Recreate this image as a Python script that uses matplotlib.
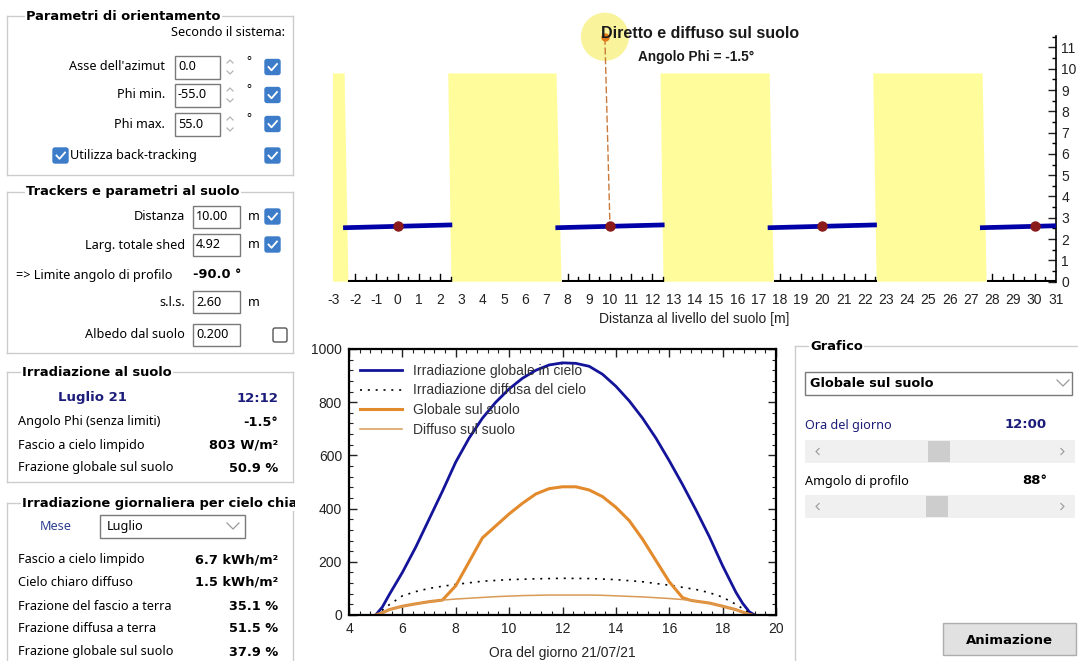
import math

import matplotlib.pyplot as plt
from matplotlib.patches import Circle, FancyBboxPatch, Polygon, Rectangle
from matplotlib.ticker import FixedLocator, MultipleLocator

plt.rcParams["font.family"] = ["Liberation Sans", "DejaVu Sans"]
plt.rcParams["axes.unicode_minus"] = False

W, H = 1078, 661

# ---- daily irradiance (W/m2) ----
HOURS_SKY = [5.0, 5.25, 5.5, 6.0, 6.5, 7.0, 7.5, 8.0, 8.5, 9.0, 9.5, 10.0, 10.5, 11.0,
             11.5, 12.0, 12.5, 13.0, 13.5, 14.0, 14.5, 15.0, 15.5, 16.0, 16.5, 17.0,
             17.5, 18.0, 18.5, 18.75, 19.0, 19.2]
GLOBAL_SKY = [0, 30, 75, 160, 255, 360, 465, 575, 665, 740, 800, 850, 890, 920,
              940, 948, 946, 935, 905, 860, 805, 740, 665, 580, 490, 395,
              295, 185, 85, 44, 12, 0]

HOURS_DIFF_SKY = [5.0, 5.25, 5.5, 6.0, 6.5, 7.0, 7.5, 8.0, 9.0, 10.0, 11.0, 12.0,
                  13.0, 14.0, 15.0, 16.0, 16.5, 17.0, 17.5, 18.0, 18.5, 19.0, 19.2]
DIFFUSE_SKY = [0, 18, 38, 72, 88, 100, 108, 115, 127, 133, 136, 138,
               137, 133, 125, 112, 104, 96, 84, 67, 40, 8, 0]

HOURS_GROUND = [5.0, 5.25, 5.5, 6.0, 6.5, 7.0, 7.5, 8.0, 8.5, 9.0, 9.5, 10.0, 10.5,
                11.0, 11.5, 12.0, 12.5, 13.0, 13.5, 14.0, 14.5, 15.0, 15.5, 16.0,
                16.5, 16.8, 17.0, 17.5, 18.0, 18.5, 19.0, 19.1]
GLOBAL_GROUND = [0, 8, 20, 33, 42, 50, 56, 110, 200, 290, 335, 380, 420,
                 455, 475, 482, 482, 470, 445, 405, 355, 285, 205, 125,
                 65, 55, 52, 45, 33, 20, 2, 0]
DIFFUSE_GROUND = [0, 8, 20, 33, 42, 50, 56, 60, 63, 66, 69, 71, 73,
                  74, 75, 75, 75, 75, 74, 72, 70, 68, 65, 62,
                  58, 55, 52, 45, 33, 20, 2, 0]

LEGEND_LABELS = ["Irradiazione globale in cielo", "Irradiazione diffusa del cielo",
                 "Globale sul suolo", "Diffuso sul suolo"]

# ---- cross-section of tracker rows (m) ----
TRACKER_X = [0, 10, 20, 30]
TRACKER_HEIGHT = 2.6
TRACKER_WIDTH = 4.92
PHI_DEG = -1.5
LIT_TOP_LEFT = [-3.05, 2.38, 12.38, 22.40]
LIT_TOP_RIGHT = [-2.50, 7.48, 17.52, 27.55]
LIT_BOT_LEFT = [-3.05, 2.53, 12.52, 22.56]
LIT_BOT_RIGHT = [-2.32, 7.72, 17.72, 27.74]
LIT_HEIGHT = 9.78
SUN_XY = (9.76, 11.5)
SUN_R = 1.13

fig = plt.figure(figsize=(W / 100, H / 100), dpi=100)
fig.patch.set_facecolor("white")


def frac(x0, y0, x1, y1):
    """pixel box (top-left origin) -> figure fraction rect"""
    return [x0 / W, 1 - y1 / H, (x1 - x0) / W, (y1 - y0) / H]


# ---------------- UI layer (pixel coordinates) ----------------
ui = fig.add_axes([0, 0, 1, 1])
ui.set_xlim(0, W)
ui.set_ylim(H, 0)
ui.axis("off")

NAVY = "#1c1c7a"
BOX = "#cccccc"


def txt(x, y, s, ha="left", bold=False, color="black", size=9.1, bg=False):
    fam = ["DejaVu Sans"] if bold else ["Noto Sans", "DejaVu Sans"]
    t = ui.text(x, y, s, ha=ha, va="center", fontsize=size, family=fam,
                fontweight="bold" if bold else "normal", color=color)
    if bg:
        t.set_bbox(dict(facecolor="white", edgecolor="none", pad=1))
    return t


def group(x0, y0, x1, y1, title, indent=19):
    ui.plot([x0, x1], [y0, y0], color=BOX, lw=1, clip_on=False)
    ui.plot([x0, x0], [y0, y1], color=BOX, lw=1)
    if x1 < W:
        ui.plot([x1, x1], [y0, y1], color=BOX, lw=1)
    if y1 < H:
        ui.plot([x0, x1], [y1, y1], color=BOX, lw=1)
    txt(x0 + indent, y0, title, bold=True, size=9.4, bg=True)


def textbox(x0, y0, x1, y1, s):
    ui.add_patch(Rectangle((x0, y0), x1 - x0, y1 - y0, facecolor="white",
                           edgecolor="#7a7a7a", lw=1))
    txt(x0 + 3, (y0 + y1) / 2, s, size=9.1)


def checkbox(x, y, checked=True):
    if checked:
        ui.add_patch(FancyBboxPatch((x, y), 15, 15, boxstyle="round,pad=0,rounding_size=2",
                                    facecolor="#3d7cc9", edgecolor="#3d7cc9"))
        ui.plot([x + 3.5, x + 6.5, x + 12], [y + 7.5, y + 10.8, y + 4.5], color="white", lw=1.3)
    else:
        ui.add_patch(FancyBboxPatch((x, y), 14, 14, boxstyle="round,pad=0,rounding_size=2",
                                    facecolor="white", edgecolor="#555555", lw=1))


def spin(x, y):
    ui.plot([x - 3, x, x + 3], [y - 4, y - 7, y - 4], color="#b5b5b5", lw=0.9)
    ui.plot([x - 3, x, x + 3], [y + 4, y + 7, y + 4], color="#b5b5b5", lw=0.9)


def chevron_down(x, y, color="#9a9a9a"):
    ui.plot([x - 6, x, x + 6], [y - 3, y + 3, y - 3], color=color, lw=0.9)


def scrollbar(y0, y1, thumb_x):
    ui.add_patch(Rectangle((805, y0), 270, y1 - y0, facecolor="#f0f0f0", edgecolor="none"))
    ui.add_patch(Rectangle((thumb_x, y0 + 1), 22, y1 - y0 - 2, facecolor="#cdcdcd", edgecolor="none"))
    ym = (y0 + y1) / 2
    ui.plot([819, 816, 819], [ym - 3, ym, ym + 3], color="#a0a0a0", lw=0.9)
    ui.plot([1061, 1064, 1061], [ym - 3, ym, ym + 3], color="#a0a0a0", lw=0.9)


# panel 1
group(7, 16, 293, 175, "Parametri di orientamento")
txt(285, 33, "Secondo il sistema:", ha="right")
for yc, lab, val in [(67, "Asse dell'azimut", "0.0"), (95, "Phi min.", "-55.0"),
                     (124, "Phi max.", "55.0")]:
    txt(165, yc, lab, ha="right")
    textbox(175, yc - 11.5, 220, yc + 11.5, val)
    spin(230, yc)
    txt(246, yc - 5, "°", size=8.5)
    checkbox(265, yc - 7.5)
checkbox(53, 148)
txt(70, 155, "Utilizza back-tracking")
checkbox(265, 148)

# panel 2
group(7, 192, 293, 353, "Trackers e parametri al suolo")
txt(185, 217, "Distanza", ha="right")
textbox(193, 206, 240, 228, "10.00")
txt(248, 217, "m")
checkbox(265, 209)
txt(185, 245, "Larg. totale shed", ha="right")
textbox(193, 234, 240, 256, "4.92")
txt(248, 245, "m")
checkbox(265, 237)
txt(16, 275, "=> Limite angolo di profilo")
txt(193, 275, "-90.0 °", bold=True, size=9.3)
txt(185, 302, "s.l.s.", ha="right")
textbox(193, 291, 240, 313, "2.60")
txt(248, 302, "m")
txt(185, 335, "Albedo dal suolo", ha="right")
textbox(193, 324, 240, 346, "0.200")
checkbox(273, 328, checked=False)

# panel 3
group(7, 372, 293, 482, "Irradiazione al suolo", indent=15)
txt(58, 398, "Luglio 21", bold=True, color=NAVY, size=9.5)
txt(278, 398, "12:12", ha="right", bold=True, color=NAVY, size=9.5)
for yc, lab, val in [(422, "Angolo Phi (senza limiti)", "-1.5°"),
                     (445, "Fascio a cielo limpido", "803 W/m²"),
                     (468, "Frazione globale sul suolo", "50.9 %")]:
    txt(18, yc, lab)
    txt(278, yc, val, ha="right", bold=True, size=9.3)

# panel 4 (title longer than the box: cut at the box edge)
group(7, 503, 293, H + 5, "Irradiazione giornaliera per cielo chiaro", indent=15)
ui.add_patch(Rectangle((294.5, 488), 50, 21, facecolor="white", edgecolor="none", zorder=10))
txt(40, 527, "Mese", color="#2b3f8f")
ui.add_patch(Rectangle((100, 515), 145, 23, facecolor="white", edgecolor="#7a7a7a", lw=1))
txt(107, 526.5, "Luglio")
chevron_down(233, 526)
for yc, lab, val in [(560, "Fascio a cielo limpido", "6.7 kWh/m²"),
                     (582, "Cielo chiaro diffuso", "1.5 kWh/m²"),
                     (607, "Frazione del fascio a terra", "35.1 %"),
                     (628, "Frazione diffusa a terra", "51.5 %"),
                     (652, "Frazione globale sul suolo", "37.9 %")]:
    txt(18, yc, lab)
    txt(278, yc, val, ha="right", bold=True, size=9.3)

# right panel
group(795, 346, W + 5, H + 5, "Grafico", indent=15)
ui.add_patch(Rectangle((805, 372), 267, 23, facecolor="white", edgecolor="#7a7a7a", lw=1))
txt(810, 383.5, "Globale sul suolo", bold=True, size=9.2)
chevron_down(1063, 383)
txt(805, 425, "Ora del giorno", color=NAVY)
txt(1047, 425, "12:00", ha="right", bold=True, color=NAVY, size=9.5)
scrollbar(440, 463, 928)
txt(805, 481, "Amgolo di profilo")
txt(1047, 481, "88°", ha="right", bold=True, size=9.5)
scrollbar(495, 518, 926)
ui.add_patch(Rectangle((943, 623), 133, 32, facecolor="#e1e1e1", edgecolor="#adadad", lw=1))
txt(1009, 640, "Animazione", ha="center", bold=True, size=9.5)

# ---------------- top chart: shading on the ground ----------------
ax1 = fig.add_axes(frac(332.3, 281.7 - 13 * 21.3, 1055.8, 281.7))
ax1.set_facecolor("none")
ax1.set_xlim(-3.08, 31)
ax1.set_ylim(0, 13)

for tl, tr, bl, br in zip(LIT_TOP_LEFT, LIT_TOP_RIGHT, LIT_BOT_LEFT, LIT_BOT_RIGHT):
    ax1.add_patch(Polygon([(bl, 0), (br, 0), (tr, LIT_HEIGHT), (tl, LIT_HEIGHT)],
                          closed=True, facecolor="#fffc9c", edgecolor="none", zorder=1))

# ground under the rows, with 0.5 m ticks
for i, x0 in enumerate(LIT_BOT_RIGHT):
    x1 = LIT_BOT_LEFT[i + 1] if i + 1 < len(LIT_BOT_LEFT) else 31.0
    ax1.plot([x0, x1], [0.02, 0.02], color="black", lw=1.5, zorder=2, solid_capstyle="butt")
    k = math.ceil(x0 * 2) / 2
    while k <= x1 + 1e-9:
        h = 0.38 if abs(k - round(k)) < 1e-9 else 0.2
        ax1.plot([k, k], [0, h], color="black", lw=1, zorder=2)
        k += 0.5

dy = -0.5 * TRACKER_WIDTH * math.tan(math.radians(PHI_DEG))
for xc in TRACKER_X:
    ax1.plot([xc - TRACKER_WIDTH / 2, xc + TRACKER_WIDTH / 2],
             [TRACKER_HEIGHT - dy, TRACKER_HEIGHT + dy], color="#0000a8", lw=3.4, zorder=3)
    ax1.plot(xc, TRACKER_HEIGHT, "o", color="#8b1a1a", ms=6.5, zorder=4)

ax1.add_patch(Circle(SUN_XY, SUN_R, facecolor="#f8f07a", edgecolor="none", alpha=0.75,
                     zorder=2, clip_on=False))
ax1.plot([SUN_XY[0], TRACKER_X[1]], [SUN_XY[1] - 0.05, TRACKER_HEIGHT],
         color="#c87a3c", lw=1, dashes=(5, 2), zorder=3)
ax1.plot(*SUN_XY, "o", color="#e07b1a", ms=5, zorder=4, clip_on=False)

ax1.text(14.24, 11.66, "Diretto e diffuso sul suolo", ha="center", va="center",
         fontsize=11.5, fontweight="bold", color="#1a1a1a", zorder=5)
ax1.text(14.05, 10.56, "Angolo Phi = -1.5°", ha="center", va="center",
         fontsize=9.8, fontweight="bold", color="#1a1a1a", zorder=5)

for side in ["top", "left", "bottom"]:
    ax1.spines[side].set_visible(False)
ax1.spines["right"].set_bounds(0, 11.55)
ax1.spines["right"].set_linewidth(1.2)
ax1.set_xticks(range(-3, 32))
ax1.tick_params(axis="x", length=0, pad=8, labelsize=10, colors="#222222")
ax1.yaxis.tick_right()
ax1.set_yticks(range(0, 12))
ax1.yaxis.set_minor_locator(FixedLocator([i + 0.5 for i in range(12)]))
ax1.tick_params(axis="y", which="major", direction="in", length=6, width=1, labelsize=10,
                pad=4, colors="#222222")
ax1.tick_params(axis="y", which="minor", direction="in", length=3, width=1)
ax1.set_xlabel("Distanza al livello del suolo [m]", fontsize=10, color="#222222", labelpad=4)

# ---------------- bottom chart: irradiance over the day ----------------
ax2 = fig.add_axes(frac(349, 349, 776, 615))
ax2.set_facecolor("none")
ax2.plot(HOURS_SKY, GLOBAL_SKY, color="#14149b", lw=2, label=LEGEND_LABELS[0])
ax2.plot(HOURS_DIFF_SKY, DIFFUSE_SKY, color="black", lw=1.2, dashes=(1.2, 3.5),
         label=LEGEND_LABELS[1])
ax2.plot(HOURS_GROUND, GLOBAL_GROUND, color="#e38a2c", lw=2.2, label=LEGEND_LABELS[2])
ax2.plot(HOURS_GROUND, DIFFUSE_GROUND, color="#d99a55", lw=1.1, label=LEGEND_LABELS[3])
ax2.set_xlim(4, 20)
ax2.set_ylim(0, 1000)
ax2.xaxis.set_major_locator(MultipleLocator(2))
ax2.xaxis.set_minor_locator(MultipleLocator(0.4))
ax2.yaxis.set_major_locator(MultipleLocator(200))
ax2.yaxis.set_minor_locator(MultipleLocator(40))
ax2.tick_params(which="both", direction="in", top=True, right=True, colors="#222222")
ax2.tick_params(which="major", length=6, width=1, labelsize=10, pad=5)
ax2.tick_params(which="minor", length=3, width=0.8)
for sp in ax2.spines.values():
    sp.set_linewidth(1.6)
ax2.set_xlabel("Ora del giorno 21/07/21", fontsize=10, color="#222222", labelpad=7)
ax2.legend(loc="upper left", bbox_to_anchor=(0.026, 0.945), frameon=False, fontsize=10,
           handlelength=3.0, handletextpad=0.8, labelspacing=0.42, borderpad=0,
           borderaxespad=0, labelcolor="#333333")

fig.savefig("out.png", dpi=100, facecolor="white")
